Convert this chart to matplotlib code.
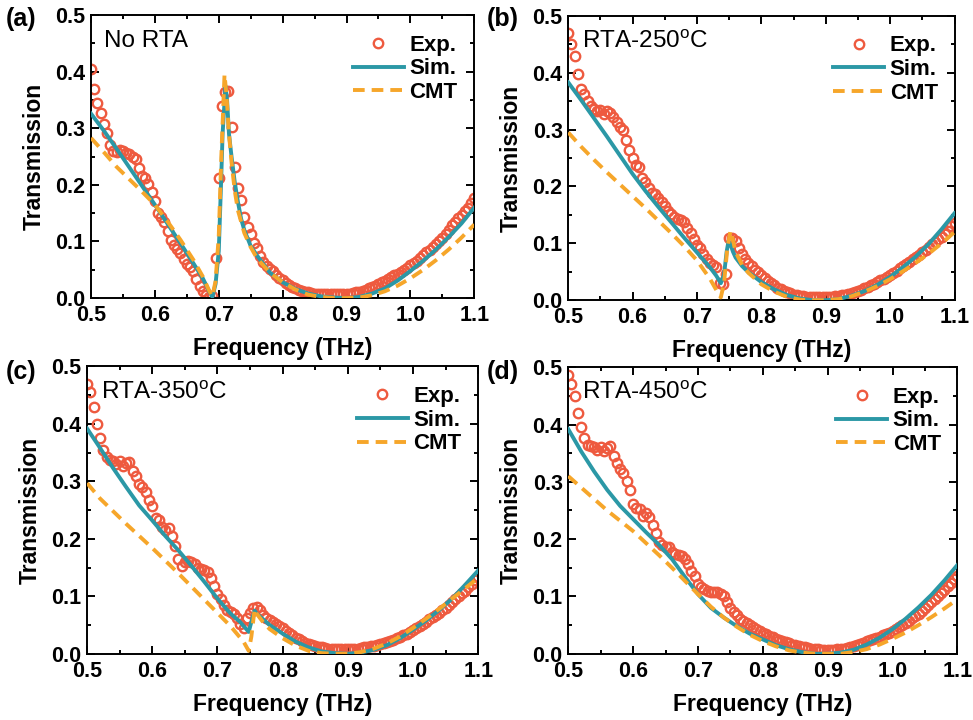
import numpy as np
from matplotlib import pyplot as plt
from matplotlib.ticker import MultipleLocator

plt.rcParams['font.family'] = ['Liberation Sans', 'DejaVu Sans']
plt.rcParams['mathtext.fontset'] = 'custom'
plt.rcParams['mathtext.rm'] = 'Liberation Sans'

# experimental frequency grid (THz)
freq_exp = [0.500, 0.505, 0.510, 0.515, 0.520, 0.525, 0.530, 0.535, 0.540, 0.545,
            0.550, 0.555, 0.560, 0.565, 0.570, 0.575, 0.580, 0.585, 0.590, 0.595,
            0.600, 0.605, 0.610, 0.615, 0.620, 0.625, 0.630, 0.635, 0.640, 0.645,
            0.650, 0.655, 0.660, 0.665, 0.670, 0.675, 0.680, 0.685, 0.690, 0.695,
            0.700, 0.705, 0.710, 0.715, 0.720, 0.725, 0.730, 0.735, 0.740, 0.745,
            0.750, 0.755, 0.760, 0.765, 0.770, 0.775, 0.780, 0.785, 0.790, 0.795,
            0.800, 0.805, 0.810, 0.815, 0.820, 0.825, 0.830, 0.835, 0.840, 0.845,
            0.850, 0.855, 0.860, 0.865, 0.870, 0.875, 0.880, 0.885, 0.890, 0.895,
            0.900, 0.905, 0.910, 0.915, 0.920, 0.925, 0.930, 0.935, 0.940, 0.945,
            0.950, 0.955, 0.960, 0.965, 0.970, 0.975, 0.980, 0.985, 0.990, 0.995,
            1.000, 1.005, 1.010, 1.015, 1.020, 1.025, 1.030, 1.035, 1.040, 1.045,
            1.050, 1.055, 1.060, 1.065, 1.070, 1.075, 1.080, 1.085, 1.090, 1.095,
            1.100]

exp_a = [0.405, 0.370, 0.345, 0.327, 0.308, 0.292, 0.270, 0.260, 0.258, 0.262,
         0.260, 0.256, 0.254, 0.250, 0.245, 0.230, 0.216, 0.212, 0.202, 0.188,
         0.172, 0.150, 0.143, 0.134, 0.118, 0.102, 0.093, 0.086, 0.080, 0.069,
         0.061, 0.055, 0.048, 0.034, 0.022, 0.012, 0.005, 0.002, 0.004, 0.071,
         0.212, 0.340, 0.365, 0.366, 0.303, 0.232, 0.195, 0.174, 0.143, 0.125,
         0.113, 0.097, 0.088, 0.075, 0.063, 0.056, 0.051, 0.048, 0.041, 0.036,
         0.032, 0.027, 0.023, 0.020, 0.017, 0.015, 0.013, 0.011, 0.010, 0.009,
         0.008, 0.008, 0.007, 0.007, 0.007, 0.007, 0.007, 0.007, 0.007, 0.007,
         0.008, 0.008, 0.009, 0.010, 0.011, 0.013, 0.015, 0.017, 0.019, 0.022,
         0.025, 0.028, 0.031, 0.034, 0.037, 0.040, 0.043, 0.046, 0.049, 0.054,
         0.058, 0.062, 0.066, 0.071, 0.076, 0.081, 0.085, 0.090, 0.095, 0.101,
         0.107, 0.114, 0.121, 0.129, 0.135, 0.141, 0.147, 0.153, 0.160, 0.168,
         0.176]

exp_b = [0.470, 0.450, 0.430, 0.398, 0.372, 0.362, 0.350, 0.341, 0.336, 0.333,
         0.335, 0.328, 0.333, 0.330, 0.322, 0.313, 0.305, 0.300, 0.282, 0.265,
         0.250, 0.237, 0.234, 0.215, 0.207, 0.197, 0.188, 0.186, 0.179, 0.172,
         0.166, 0.157, 0.152, 0.147, 0.143, 0.141, 0.137, 0.127, 0.118, 0.108,
         0.097, 0.092, 0.081, 0.072, 0.065, 0.062, 0.058, 0.030, 0.028, 0.047,
         0.110, 0.110, 0.105, 0.092, 0.082, 0.073, 0.066, 0.060, 0.054, 0.049,
         0.044, 0.039, 0.034, 0.030, 0.026, 0.022, 0.019, 0.016, 0.014, 0.012,
         0.010, 0.009, 0.008, 0.007, 0.006, 0.006, 0.005, 0.005, 0.005, 0.005,
         0.005, 0.006, 0.006, 0.007, 0.008, 0.009, 0.010, 0.011, 0.012, 0.014,
         0.016, 0.018, 0.021, 0.023, 0.026, 0.029, 0.032, 0.035, 0.038, 0.041,
         0.044, 0.048, 0.052, 0.056, 0.060, 0.064, 0.068, 0.072, 0.076, 0.080,
         0.084, 0.089, 0.094, 0.099, 0.103, 0.107, 0.112, 0.117, 0.122, 0.130,
         0.136]

exp_c = [0.470, 0.455, 0.430, 0.400, 0.375, 0.355, 0.342, 0.338, 0.336, 0.330,
         0.335, 0.327, 0.332, 0.333, 0.318, 0.310, 0.295, 0.291, 0.282, 0.268,
         0.258, 0.236, 0.233, 0.220, 0.215, 0.219, 0.205, 0.188, 0.165, 0.153,
         0.160, 0.161, 0.159, 0.156, 0.150, 0.147, 0.145, 0.142, 0.132, 0.118,
         0.104, 0.095, 0.085, 0.077, 0.073, 0.069, 0.062, 0.052, 0.045, 0.062,
         0.071, 0.080, 0.082, 0.076, 0.068, 0.062, 0.058, 0.055, 0.052, 0.048,
         0.044, 0.040, 0.036, 0.032, 0.028, 0.025, 0.022, 0.019, 0.017, 0.015,
         0.013, 0.012, 0.011, 0.010, 0.009, 0.009, 0.008, 0.008, 0.008, 0.008,
         0.008, 0.008, 0.009, 0.009, 0.010, 0.011, 0.012, 0.013, 0.014, 0.016,
         0.017, 0.019, 0.020, 0.022, 0.024, 0.027, 0.029, 0.032, 0.035, 0.038,
         0.041, 0.044, 0.048, 0.052, 0.056, 0.060, 0.064, 0.067, 0.071, 0.076,
         0.080, 0.085, 0.090, 0.095, 0.100, 0.105, 0.110, 0.116, 0.121, 0.128,
         0.134]

exp_d = [0.487, 0.470, 0.450, 0.420, 0.395, 0.377, 0.364, 0.362, 0.360, 0.355,
         0.360, 0.354, 0.359, 0.362, 0.345, 0.333, 0.322, 0.315, 0.302, 0.285,
         0.262, 0.254, 0.253, 0.240, 0.245, 0.238, 0.224, 0.210, 0.195, 0.189,
         0.187, 0.186, 0.178, 0.174, 0.172, 0.171, 0.166, 0.156, 0.144, 0.135,
         0.122, 0.117, 0.113, 0.110, 0.107, 0.108, 0.107, 0.104, 0.100, 0.090,
         0.079, 0.072, 0.068, 0.061, 0.057, 0.054, 0.051, 0.047, 0.043, 0.040,
         0.037, 0.034, 0.031, 0.029, 0.026, 0.024, 0.022, 0.020, 0.018, 0.016,
         0.015, 0.013, 0.012, 0.011, 0.010, 0.009, 0.008, 0.008, 0.007, 0.007,
         0.007, 0.007, 0.007, 0.008, 0.008, 0.009, 0.010, 0.011, 0.013, 0.015,
         0.017, 0.019, 0.022, 0.024, 0.026, 0.028, 0.030, 0.032, 0.034, 0.037,
         0.040, 0.043, 0.046, 0.050, 0.054, 0.058, 0.062, 0.066, 0.070, 0.075,
         0.080, 0.085, 0.090, 0.095, 0.100, 0.106, 0.112, 0.118, 0.124, 0.130,
         0.136]

# simulation curves
sim_a_f = [0.50, 0.52, 0.54, 0.56, 0.58, 0.60, 0.62, 0.64, 0.66, 0.675, 0.685, 0.69,
           0.695, 0.70, 0.7035, 0.706, 0.7105, 0.713, 0.716, 0.72, 0.725, 0.73, 0.735,
           0.74, 0.75, 0.76, 0.78, 0.80, 0.82, 0.84, 0.86, 0.88, 0.90, 0.92, 0.94,
           0.96, 0.98, 1.00, 1.02, 1.04, 1.06, 1.08, 1.10]
sim_a = [0.326, 0.296, 0.264, 0.231, 0.198, 0.165, 0.131, 0.097, 0.062, 0.035, 0.012, 0.002,
         0.025, 0.083, 0.200, 0.290, 0.375, 0.350, 0.290, 0.250, 0.205, 0.170, 0.140,
         0.120, 0.092, 0.075, 0.045, 0.028, 0.016, 0.008, 0.003, 0.001, 0.000, 0.002, 0.008,
         0.017, 0.031, 0.048, 0.066, 0.086, 0.108, 0.132, 0.160]

cmt_a_f = [0.50, 0.52, 0.54, 0.56, 0.58, 0.60, 0.62, 0.64, 0.66, 0.675, 0.685, 0.69,
           0.695, 0.70, 0.704, 0.709, 0.712, 0.716, 0.72, 0.725, 0.73, 0.74, 0.75,
           0.76, 0.78, 0.80, 0.82, 0.84, 0.86, 0.88, 0.90, 0.92, 0.94, 0.96, 0.98,
           1.00, 1.02, 1.04, 1.06, 1.08, 1.10]
cmt_a = [0.283, 0.258, 0.232, 0.210, 0.188, 0.165, 0.135, 0.103, 0.068, 0.038, 0.013, 0.003,
         0.030, 0.110, 0.250, 0.395, 0.360, 0.290, 0.240, 0.190, 0.155, 0.115, 0.090,
         0.070, 0.045, 0.028, 0.015, 0.006, 0.002, 0.000, 0.000, 0.001, 0.005, 0.012, 0.022,
         0.035, 0.050, 0.067, 0.086, 0.107, 0.130]

sim_b_f = [0.50, 0.52, 0.54, 0.56, 0.58, 0.60, 0.62, 0.64, 0.66, 0.68, 0.70, 0.72, 0.73,
           0.737, 0.742, 0.746, 0.749, 0.752, 0.756, 0.76, 0.77, 0.78, 0.80, 0.82, 0.84,
           0.86, 0.88, 0.90, 0.92, 0.94, 0.96, 0.98, 1.00, 1.02, 1.04, 1.06, 1.08, 1.10]
sim_b = [0.383, 0.352, 0.320, 0.288, 0.255, 0.222, 0.192, 0.164, 0.137, 0.110, 0.084, 0.058, 0.043,
         0.030, 0.045, 0.085, 0.104, 0.098, 0.085, 0.075, 0.060, 0.049, 0.032, 0.019, 0.009,
         0.003, 0.000, 0.000, 0.002, 0.008, 0.016, 0.027, 0.041, 0.058, 0.077, 0.099, 0.125, 0.153]

cmt_b_f = [0.50, 0.52, 0.54, 0.56, 0.58, 0.60, 0.62, 0.64, 0.66, 0.68, 0.70, 0.72, 0.73,
           0.737, 0.742, 0.747, 0.752, 0.755, 0.76, 0.77, 0.78, 0.80, 0.82, 0.84, 0.86,
           0.88, 0.90, 0.92, 0.94, 0.96, 0.98, 1.00, 1.02, 1.04, 1.06, 1.08, 1.10]
cmt_b = [0.295, 0.270, 0.247, 0.225, 0.204, 0.183, 0.162, 0.140, 0.118, 0.095, 0.070, 0.038, 0.018,
         0.005, 0.030, 0.090, 0.122, 0.110, 0.085, 0.062, 0.048, 0.028, 0.015, 0.006, 0.001,
         0.000, 0.000, 0.002, 0.007, 0.015, 0.025, 0.037, 0.051, 0.066, 0.082, 0.100, 0.120]

sim_c_f = [0.50, 0.52, 0.54, 0.56, 0.58, 0.60, 0.62, 0.64, 0.66, 0.68, 0.70, 0.72, 0.735,
           0.748, 0.753, 0.757, 0.76, 0.77, 0.78, 0.80, 0.82, 0.84, 0.86, 0.88, 0.90, 0.92,
           0.94, 0.96, 0.98, 1.00, 1.02, 1.04, 1.06, 1.08, 1.10]
sim_c = [0.392, 0.358, 0.323, 0.290, 0.258, 0.232, 0.205, 0.180, 0.153, 0.125, 0.096, 0.070, 0.055,
         0.038, 0.060, 0.075, 0.070, 0.060, 0.050, 0.035, 0.021, 0.011, 0.004, 0.001, 0.000, 0.002,
         0.007, 0.015, 0.027, 0.042, 0.058, 0.076, 0.096, 0.120, 0.145]

cmt_c_f = [0.50, 0.52, 0.54, 0.56, 0.58, 0.60, 0.62, 0.64, 0.66, 0.68, 0.70, 0.72, 0.74,
           0.748, 0.752, 0.757, 0.76, 0.77, 0.78, 0.80, 0.82, 0.84, 0.86, 0.88, 0.90, 0.92,
           0.94, 0.96, 0.98, 1.00, 1.02, 1.04, 1.06, 1.08, 1.10]
cmt_c = [0.297, 0.270, 0.248, 0.226, 0.205, 0.184, 0.162, 0.140, 0.117, 0.094, 0.071, 0.048, 0.021,
         0.005, 0.030, 0.078, 0.070, 0.055, 0.043, 0.027, 0.014, 0.005, 0.001, 0.000, 0.000, 0.003,
         0.009, 0.018, 0.030, 0.045, 0.061, 0.078, 0.096, 0.114, 0.132]

sim_d_f = [0.50, 0.52, 0.54, 0.56, 0.58, 0.60, 0.62, 0.64, 0.66, 0.68, 0.70, 0.72, 0.74, 0.76,
           0.78, 0.80, 0.82, 0.84, 0.86, 0.88, 0.90, 0.92, 0.94, 0.96, 0.98, 1.00, 1.02, 1.04,
           1.06, 1.08, 1.10]
sim_d = [0.392, 0.353, 0.318, 0.286, 0.258, 0.235, 0.212, 0.190, 0.165, 0.134, 0.104, 0.080, 0.063, 0.048,
         0.035, 0.025, 0.015, 0.008, 0.003, 0.000, 0.000, 0.002, 0.007, 0.016, 0.028, 0.043, 0.061, 0.081,
         0.103, 0.128, 0.155]

cmt_d_f = [0.50, 0.52, 0.54, 0.56, 0.58, 0.60, 0.62, 0.64, 0.66, 0.68, 0.70, 0.72, 0.74, 0.76,
           0.78, 0.80, 0.82, 0.84, 0.86, 0.88, 0.90, 0.92, 0.94, 0.96, 0.98, 1.00, 1.02, 1.04,
           1.06, 1.08, 1.10]
cmt_d = [0.310, 0.290, 0.270, 0.250, 0.232, 0.214, 0.193, 0.172, 0.150, 0.127, 0.104, 0.082, 0.063, 0.047,
         0.033, 0.022, 0.013, 0.006, 0.002, 0.000, 0.000, 0.000, 0.003, 0.008, 0.016, 0.026, 0.037, 0.050,
         0.064, 0.079, 0.095]

panel_tags = ['(a)', '(b)', '(c)', '(d)']
panel_titles = ['No RTA', 'RTA-250$^\\mathrm{o}$C', 'RTA-350$^\\mathrm{o}$C', 'RTA-450$^\\mathrm{o}$C']
exp_data = [exp_a, exp_b, exp_c, exp_d]
sim_data = [(sim_a_f, sim_a), (sim_b_f, sim_b), (sim_c_f, sim_c), (sim_d_f, sim_d)]
cmt_data = [(cmt_a_f, cmt_a), (cmt_b_f, cmt_b), (cmt_c_f, cmt_c), (cmt_d_f, cmt_d)]

exp_color = '#ee5a3f'
sim_color = '#2b98a6'
cmt_color = '#f6a62a'

fig = plt.figure(figsize=(9.73, 7.2), dpi=100)
# axes rectangles in figure fractions: left, bottom, width, height
rects = [(0.0935, 0.586, 0.394, 0.393),
         (0.584, 0.583, 0.397, 0.395),
         (0.0895, 0.092, 0.402, 0.399),
         (0.584, 0.092, 0.400, 0.398)]
tag_pos = [(0.006, 0.974), (0.5, 0.974), (0.006, 0.484), (0.5, 0.484)]

for i in range(4):
    ax = fig.add_axes(rects[i])
    ax.plot(freq_exp, exp_data[i], 'o', mfc='none', mec=exp_color, mew=1.7, ms=6.8,
            label='Exp.', zorder=2)
    ax.plot(sim_data[i][0], sim_data[i][1], '-', color=sim_color, lw=2.8, label='Sim.', zorder=3)
    ax.plot(cmt_data[i][0], cmt_data[i][1], '--', color=cmt_color, lw=2.8, dashes=(3, 1.8),
            label='CMT', zorder=4)

    ax.set_xlim(0.5, 1.1)
    ax.set_ylim(0.0, 0.5)
    ax.xaxis.set_major_locator(MultipleLocator(0.1))
    ax.xaxis.set_minor_locator(MultipleLocator(0.05))
    ax.yaxis.set_major_locator(MultipleLocator(0.1))
    ax.yaxis.set_minor_locator(MultipleLocator(0.05))
    ax.xaxis.set_major_formatter(plt.FuncFormatter(lambda v, p: f'{v:.1f}'))
    ax.yaxis.set_major_formatter(plt.FuncFormatter(lambda v, p: f'{v:.1f}'))
    ax.tick_params(which='both', direction='in', top=True, right=True, width=1.4)
    ax.tick_params(which='major', length=5.5, labelsize=15.5)
    ax.tick_params(axis='x', which='major', pad=5)
    ax.tick_params(axis='y', which='major', pad=4)
    ax.tick_params(which='minor', length=3)
    for lab in ax.get_xticklabels() + ax.get_yticklabels():
        lab.set_fontweight('bold')
    for sp in ax.spines.values():
        sp.set_linewidth(1.4)

    ax.set_xlabel('Frequency (THz)', fontsize=16.5, fontweight='bold', labelpad=8)
    ax.set_ylabel('Transmission', fontsize=16.5, fontweight='bold', labelpad=7)

    ax.text(0.035, 0.91, panel_titles[i], transform=ax.transAxes, fontsize=17.5,
            ha='left', va='center')
    ax.legend(loc='upper right', frameon=False, prop={'weight': 'bold', 'size': 16},
              handlelength=2.3, handletextpad=0.25, labelspacing=0.12,
              borderaxespad=0.35, bbox_to_anchor=(1.0, 0.99))

    fig.text(tag_pos[i][0], tag_pos[i][1], panel_tags[i], fontsize=18,
             fontweight='bold', ha='left', va='center')

plt.savefig('out.png', dpi=100)
plt.close()
